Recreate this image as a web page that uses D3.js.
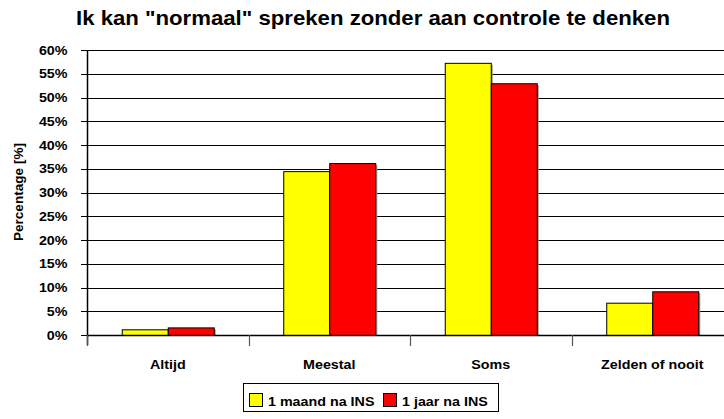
<!DOCTYPE html>
<html><head><meta charset="utf-8">
<script src="https://cdn.jsdelivr.net/npm/d3@7"></script>
<style>
body{margin:0;background:#fff;}
svg{display:block;font-family:"Liberation Sans",Arial,sans-serif;}
</style></head><body>
<svg id="c" width="724" height="419"></svg>
<script>
const categories = ["Altijd","Meestal","Soms","Zelden of nooit"];
const seriesNames = ["1 maand na INS","1 jaar na INS"];
const maand = [1.2, 34.5, 57.3, 6.8];
const jaar = [1.6, 36.2, 53.0, 9.2];
const yTicks = [0,5,10,15,20,25,30,35,40,45,50,55,60];
const colors = ["#ffff00","#ff0000"];

(function(){
const svg = d3.select("#c");
const pL = 87, pR = 733, pT = 50, pB = 335;
const fs = 13, sx = 1.1;
const x = d3.scaleBand().domain(categories).range([pL, pR]).paddingInner(0).paddingOuter(0);
const inner = d3.scaleBand().domain(seriesNames).range([0, x.bandwidth()]).paddingOuter(0.755).paddingInner(0);
const y = d3.scaleLinear().domain([0,60]).range([pB, pT]);

// gridlines
const yAxis = d3.axisLeft(y).tickValues(yTicks).tickFormat(d => d + "%").tickSize(-(pR-pL)).tickSizeOuter(0);
const gy = svg.append("g").attr("transform", `translate(${pL},0)`).call(yAxis);
gy.select(".domain").remove();
gy.selectAll(".tick line").attr("stroke","#000").attr("stroke-width",1).attr("x1", -6).attr("shape-rendering","crispEdges");
gy.selectAll(".tick text").attr("font-size",fs).attr("font-weight","bold").attr("fill","#000")
  .attr("font-family","Liberation Sans, Arial, sans-serif").attr("x",-19.5/sx).attr("transform",`scale(${sx},1)`);

// bars
const data = [];
categories.forEach((c,i) => {
  data.push({c, s: seriesNames[0], v: maand[i], col: colors[0]});
  data.push({c, s: seriesNames[1], v: jaar[i], col: colors[1]});
});
const bars = svg.append("g");
bars.selectAll("rect.sh").data(data).join("rect").attr("class","sh")
  .attr("x", d => x(d.c) + inner(d.s) + 2)
  .attr("y", d => y(d.v) + 2)
  .attr("width", inner.bandwidth())
  .attr("height", d => pB - y(d.v) - 2)
  .attr("fill","#999");
bars.selectAll("rect.b").data(data).join("rect").attr("class","b")
  .attr("x", d => x(d.c) + inner(d.s) + 0.5)
  .attr("y", d => y(d.v) + 0.5)
  .attr("width", inner.bandwidth())
  .attr("height", d => pB - y(d.v))
  .attr("fill", d => d.col).attr("stroke","#000").attr("stroke-width",1);

// axes lines
svg.append("line").attr("x1",pL+0.5).attr("x2",pL+0.5).attr("y1",pT).attr("y2",pB+10).attr("stroke","#000").attr("stroke-width",1.5);
svg.append("line").attr("x1",pL).attr("x2",pR).attr("y1",pB+0.5).attr("y2",pB+0.5).attr("stroke","#000").attr("stroke-width",1.5);

// x axis
const xb = d3.axisBottom(x).tickSize(0).tickPadding(25);
const gx = svg.append("g").attr("transform",`translate(0,${pB})`).call(xb);
gx.select(".domain").remove();
gx.selectAll(".tick text").attr("font-size",fs).attr("font-weight","bold").attr("fill","#000")
  .attr("font-family","Liberation Sans, Arial, sans-serif").attr("transform",`scale(${sx},1)`);
const bounds = categories.map(c => x(c)).concat([pR]);
svg.append("g").selectAll("line").data(bounds).join("line")
  .attr("x1", d => Math.round(d)+0.5).attr("x2", d => Math.round(d)+0.5)
  .attr("y1", pB).attr("y2", pB+11).attr("stroke","#555").attr("stroke-width",1.2);

// title
svg.append("text").attr("x",76).attr("y",25)
  .attr("font-size",21).attr("font-weight","bold").attr("fill","#000")
  .attr("textLength",594).attr("lengthAdjust","spacingAndGlyphs")
  .text('Ik kan "normaal" spreken zonder aan controle te denken');

// y label
svg.append("text").attr("transform","translate(23,192) rotate(-90)").attr("text-anchor","middle")
  .attr("font-size",13.6).attr("font-weight","bold").attr("fill","#000").text("Percentage [%]");

// legend
const lg = svg.append("g");
lg.append("rect").attr("x",243.5).attr("y",383.5).attr("width",255).attr("height",28).attr("fill","#fff").attr("stroke","#000");
const items = [{n: seriesNames[0], c: colors[0], x: 249}, {n: seriesNames[1], c: colors[1], x: 383}];
items.forEach(it => {
  lg.append("rect").attr("x", it.x+0.5).attr("y",393.5).attr("width",13).attr("height",13).attr("fill",it.c).attr("stroke","#000");
  lg.append("text").attr("transform",`translate(${it.x+19},406) scale(${sx},1)`).attr("font-size",fs).attr("font-weight","bold").attr("fill","#000").text(it.n);
});
})();
</script>
</body></html>
